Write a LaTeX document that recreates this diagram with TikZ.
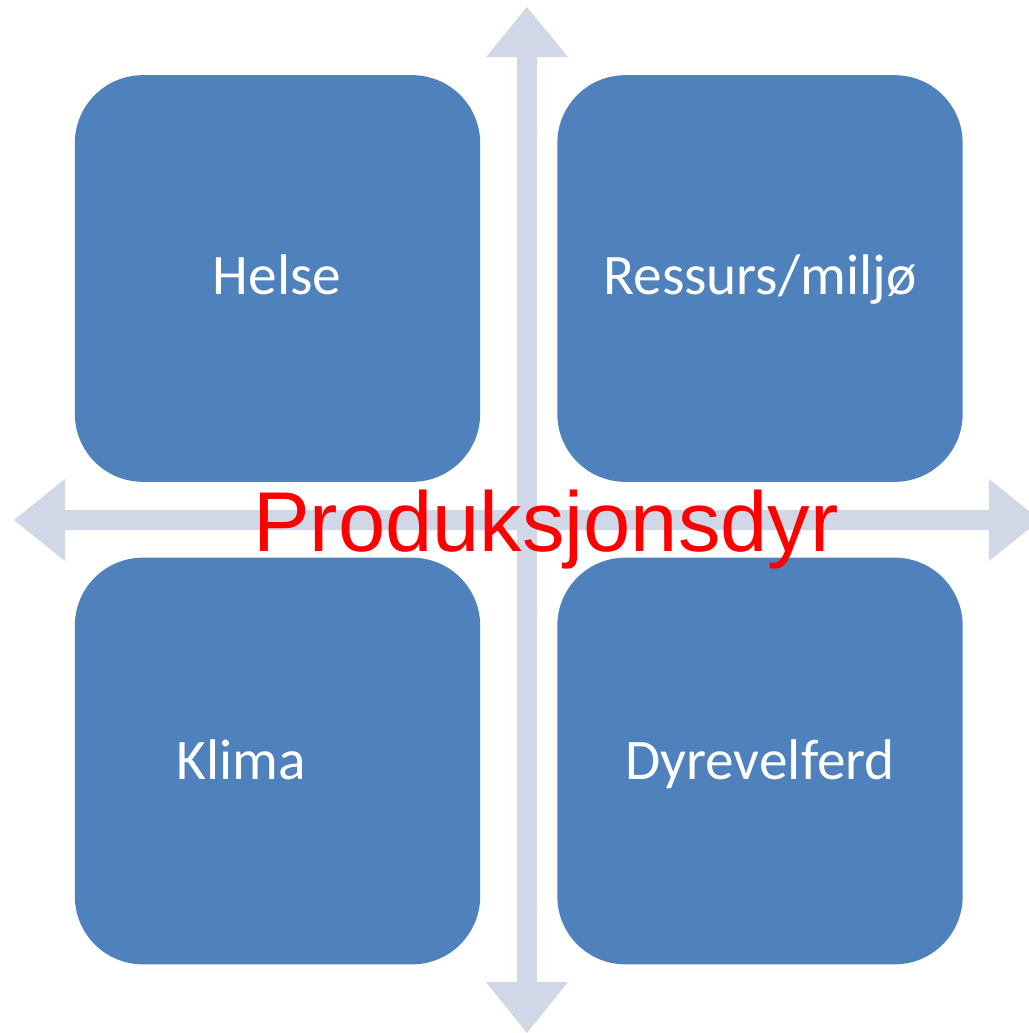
\documentclass[tikz,border=0pt]{standalone}
\usepackage{fontspec}
\setmainfont{Carlito}
\newfontfamily\arialfont{Liberation Sans}
\usetikzlibrary{positioning}
\definecolor{boxblue}{HTML}{4F81BD}
\definecolor{axisgrey}{HTML}{D0D8E8}

\begin{document}
\begin{tikzpicture}[x=0.75pt,y=-0.75pt]
    \useasboundingbox (0,0) rectangle (1029,1033);

    % axes
    \begin{scope}[every path/.style={fill=axisgrey}]
        \fill (517,57) -- (486,57) -- (527,7) -- (568,57) -- (537,57)
            -- (537,982) -- (568,982) -- (527,1033) -- (486,982) -- (517,982) -- cycle;
        \fill (65,510) -- (65,479) -- (14,520) -- (65,561) -- (65,530)
            -- (989,530) -- (989,561) -- (1040,520) -- (989,479) -- (989,510) -- cycle;
    \end{scope}

    % quadrants
    \begin{scope}[every node/.style={fill=boxblue,rounded corners=51pt,
        minimum width=304pt,minimum height=305pt,inner sep=0pt}]
        \node (helse) at (277.5,278.5) {};
        \node (ressurs) at (760,278.5) {};
        \node (klima) at (277.5,761) {};
        \node (dyrevelferd) at (760,761) {};
    \end{scope}

    \begin{scope}[every node/.style={text=white,anchor=base,inner sep=0pt,
        font=\fontsize{43}{50}\selectfont}]
        \node (helselabel) at (277,294) {Helse};
        \node (ressurslabel) at (760,294) {Ressurs/miljø};
        \node (klimalabel) at (241,779) {Klima};
        \node (dyrlabel) at (760,779) {Dyrevelferd};
    \end{scope}

    \node[text=red,anchor=base,inner sep=0pt,
        font=\arialfont\fontsize{63.7}{72}\selectfont] (produksjon) at (546,551) {Produksjonsdyr};
\end{tikzpicture}
\end{document}
